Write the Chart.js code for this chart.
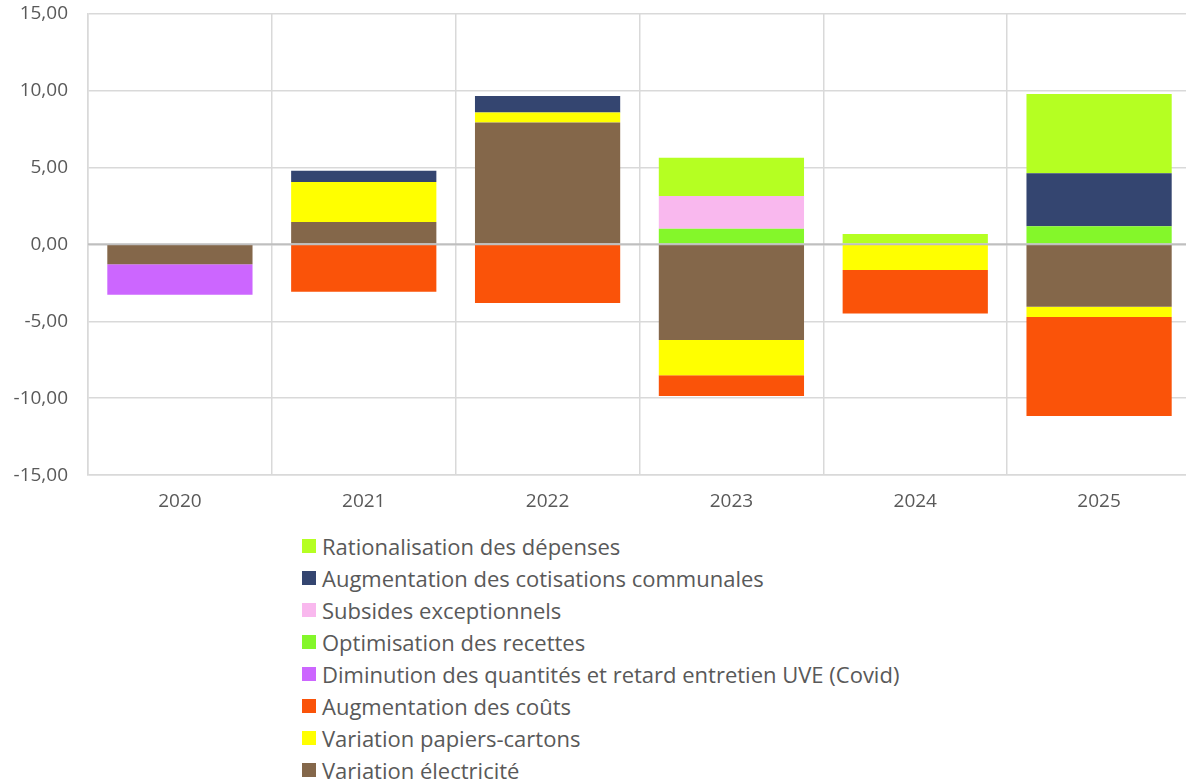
<!DOCTYPE html>
<html>
<head>
<meta charset="utf-8">
<script src="https://cdn.jsdelivr.net/npm/chart.js@4/dist/chart.umd.min.js"></script>
<style>
  body { margin: 0; background: #fff; overflow: hidden; font-family: "Open Sans", "Noto Sans", sans-serif; }
  #wrap { position: relative; width: 1200px; height: 780px; }
  #myChart { display: block; position: absolute; left: 0; top: -18px; }
  #legend { position: absolute; left: 302px; top: 530px; color: #595959; font-size: 22px; }
  .item { height: 32px; display: flex; align-items: center; }
  .box { width: 14px; height: 14px; margin-right: 6px; }
</style>
</head>
<body>
<div id="wrap">
  <canvas id="myChart" width="1200" height="546"></canvas>
  <div id="legend"></div>
</div>
<script>
const years = ["2020", "2021", "2022", "2023", "2024", "2025"];
// stacking order, bottom to top (legend shows it reversed)
const seriesNames = [
    "Variation électricité",
    "Variation papiers-cartons",
    "Augmentation des coûts",
    "Diminution des quantités et retard entretien UVE (Covid)",
    "Optimisation des recettes",
    "Subsides exceptionnels",
    "Augmentation des cotisations communales",
    "Rationalisation des dépenses"
];
const electricite = [-1.30, 1.45, 7.91, -6.22, 0, -4.06];
const papiers = [0, 2.60, 0.65, -2.28, -1.67, -0.67];
const couts = [0, -3.08, -3.82, -1.35, -2.82, -6.42];
const covid = [-1.98, 0, 0, 0, 0, 0];
const recettes = [0, 0, 0, 1.01, 0, 1.17];
const subsides = [0, 0, 0, 2.13, 0, 0];
const cotisations = [0, 0.72, 1.08, 0, 0, 3.45];
const rationalisation = [0, 0, 0, 2.49, 0.67, 5.14];
const seriesValues = [electricite, papiers, couts, covid, recettes, subsides, cotisations, rationalisation];
const seriesColors = [
    "#84674a", //electricite
    "#ffff00", //papiers
    "#fa5309", //couts
    "#cc66ff", //covid
    "#84f72a", //recettes
    "#f9b8ee", //subsides
    "#344570", //cotisations
    "#b5ff22" //rationalisation
];
const yTicks = [-15, -10, -5, 0, 5, 10, 15];

const fontFamily = "'Open Sans', 'Noto Sans', sans-serif";
const textColor = "#595959";

// zero line sits on top of the bars, as in the original
const zeroLine = {
    id: "zeroLine",
    afterDatasetsDraw(chart) {
        const y = chart.scales.y.getPixelForValue(0);
        const ctx = chart.ctx;
        ctx.save();
        ctx.strokeStyle = "#bfbfbf";
        ctx.lineWidth = 2;
        ctx.beginPath();
        ctx.moveTo(chart.chartArea.left, y);
        ctx.lineTo(chart.chartArea.right, y);
        ctx.stroke();
        ctx.restore();
    }
};

const chart = new Chart("myChart", {
    type: "bar",
    data: {
        labels: years,
        datasets: seriesNames.map((name, i) => ({
            label: name,
            data: seriesValues[i],
            backgroundColor: seriesColors[i],
            borderWidth: 0,
            categoryPercentage: 1,
            barPercentage: 0.79
        }))
    },
    options: {
        responsive: false,
        animation: false,
        layout: { padding: { top: 0, right: 9, left: 0, bottom: 0 } },
        plugins: {
            legend: { display: false },
            tooltip: { enabled: false }
        },
        scales: {
            x: {
                stacked: true,
                grid: { offset: true, color: "#d9d9d9", lineWidth: 1.5, drawTicks: false },
                border: { color: "#d9d9d9", width: 1.5 },
                ticks: { color: textColor, font: { family: fontFamily, size: 19 }, padding: 15 }
            },
            y: {
                stacked: true,
                min: yTicks[0],
                max: yTicks[yTicks.length - 1],
                afterBuildTicks: (axis) => { axis.ticks = yTicks.map(v => ({ value: v })); },
                afterFit: (axis) => { axis.width = 88; },
                grid: { color: "#d9d9d9", lineWidth: 1.5, drawTicks: false },
                border: { color: "#d9d9d9", width: 1.5 },
                ticks: {
                    color: textColor,
                    font: { family: fontFamily, size: 19 },
                    padding: 20,
                    callback: (v) => Number(v).toFixed(2).replace(".", ",")
                }
            }
        }
    },
    plugins: [zeroLine]
});

// legend, top to bottom = reverse stacking order
const legendEl = document.getElementById("legend");
for (let i = seriesNames.length - 1; i >= 0; i--) {
    const row = document.createElement("div");
    row.className = "item";
    const box = document.createElement("span");
    box.className = "box";
    box.style.background = seriesColors[i];
    const txt = document.createElement("span");
    txt.textContent = seriesNames[i];
    row.appendChild(box);
    row.appendChild(txt);
    legendEl.appendChild(row);
}
</script>
</body>
</html>
